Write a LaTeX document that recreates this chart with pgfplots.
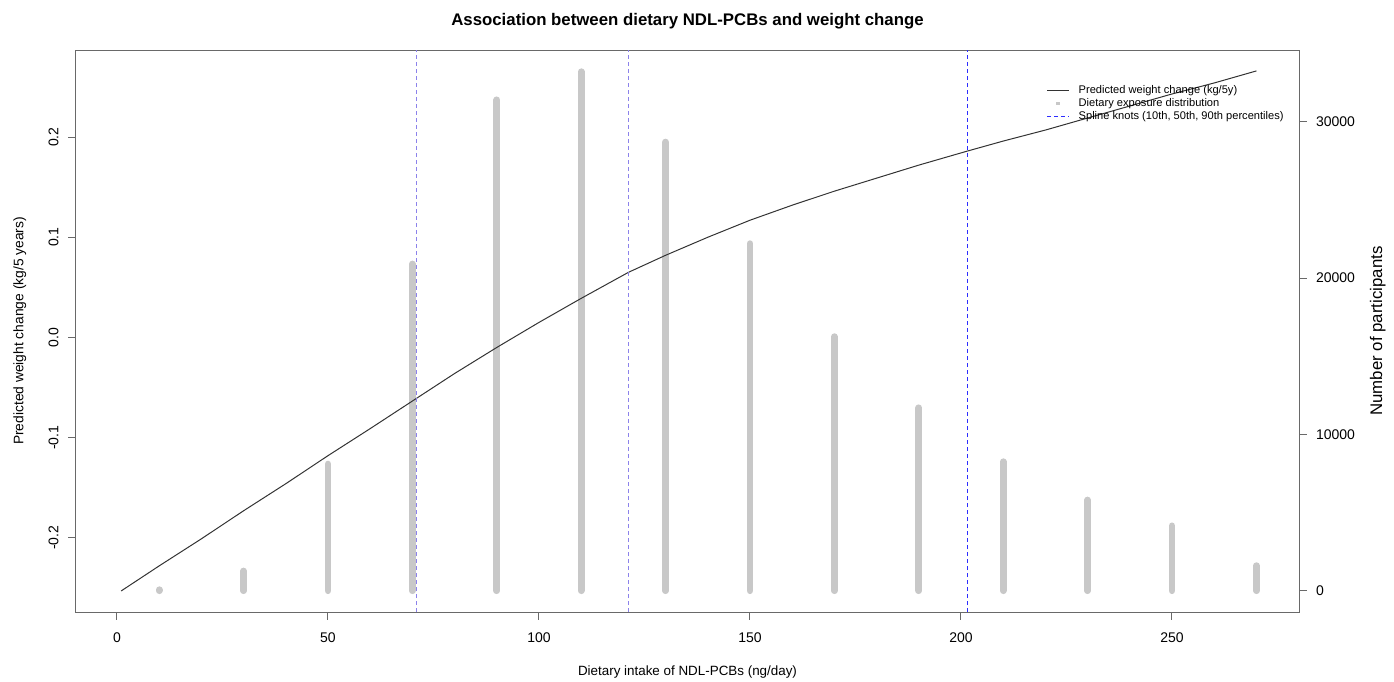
\documentclass[border=0pt]{standalone}
\usepackage{fontspec}
\setmainfont{Liberation Sans}
\usepackage{pgfplots}
\pgfplotsset{compat=1.18}
\definecolor{barcol}{RGB}{200,200,200}
\definecolor{knotA}{RGB}{140,130,235}
\definecolor{knotB}{RGB}{45,45,255}
\definecolor{axcol}{RGB}{105,105,105}
\begin{document}
\begin{tikzpicture}
\pgfplotsset{
  every axis/.append style={
    scale only axis, width=611.5pt, height=281pt,
    xmin=-9.7, xmax=280.1,
    tick align=outside, major tick length=3.85pt,
    every tick/.style={axcol, line width=0.5pt},
    axis line style={axcol, line width=0.5pt},
    tick label style={font=\fontsize{7}{8}\selectfont, inner sep=0pt},
  },
}
% participants per intake bin (right axis)
\begin{axis}[
  axis x line=none, axis y line*=right,
  ymin=-1363, ymax=34590, scaled y ticks=false,
  ytick={0,10000,20000,30000}, yticklabels={0,10000,20000,30000},
  yticklabel style={anchor=west}, yticklabel shift=4.5pt,
]
\addplot[ycomb, barcol, line width=3.4pt, line cap=round] coordinates {
  (10,60) (30,1260) (50,8100) (70,20900) (90,31400) (110,33200) (130,28700)
  (150,22200) (170,16250) (190,11700) (210,8250) (230,5800) (250,4150) (270,1600)};
\end{axis}
% spline fit (left axis)
\begin{axis}[
  name=main,
  ymin=-0.2740, ymax=0.2869,
  xtick pos=bottom, ytick pos=left,
  xtick={0,50,100,150,200,250}, xticklabels={0,50,100,150,200,250},
  xticklabel style={anchor=base}, xticklabel shift=11.5pt,
  ytick={-0.2,-0.1,0,0.1,0.2}, yticklabels={-0.2,-0.1,0.0,0.1,0.2},
  yticklabel style={rotate=90, anchor=base}, yticklabel shift=5pt,
  legend style={draw=none, fill=none, inner sep=0pt, outer sep=0pt,
    at={(0.7937,0.9374)}, anchor=north west,
    font=\fontsize{5.55}{6.5}\selectfont,
    nodes={inner sep=0pt, text height=4pt, text depth=1.2pt},
    column sep=4.7pt, row sep=1.45pt},
  legend cell align=left,
  legend image code/.code={\draw[#1] (0pt,0pt) -- (10.8pt,0pt);},
]
\addplot[black!80, line width=0.5pt] coordinates {
  (1,-0.253) (10,-0.228) (20,-0.201) (30,-0.173) (40,-0.146) (50,-0.118)
  (60,-0.091) (70.9,-0.061) (80,-0.036) (90,-0.010) (100,0.015) (110,0.039)
  (121.2,0.065) (130,0.082) (140,0.100) (150,0.117) (160,0.132) (170,0.146)
  (180,0.159) (190,0.172) (201.5,0.186) (210,0.196) (220,0.207) (230,0.219)
  (240,0.231) (250,0.243) (260,0.254) (270,0.266)};
\addlegendentry{Predicted weight change (kg/5y)}
\addlegendimage{legend image code/.code={
  \path[draw=none, fill=none] (0pt,-0.9pt) rectangle (10.8pt,0.9pt);
  \fill[barcol, draw=none] (4.5pt,-0.9pt) rectangle (6.3pt,0.9pt);}}
\addlegendentry{Dietary exposure distribution}
\addlegendimage{color=knotB, line width=0.5pt, dash pattern=on 2pt off 1.5pt}
\addlegendentry{Spline knots (10th, 50th, 90th percentiles)}
\addplot[color=knotA, line width=0.5pt, dash pattern=on 2pt off 1.5pt, forget plot]
  coordinates {(70.9,-0.2740) (70.9,0.2869)};
\addplot[color=knotA, line width=0.5pt, dash pattern=on 2pt off 1.5pt, forget plot]
  coordinates {(121.2,-0.2740) (121.2,0.2869)};
\addplot[color=knotB, line width=0.75pt, dash pattern=on 2pt off 1.5pt, forget plot]
  coordinates {(201.5,-0.2740) (201.5,0.2869)};
\end{axis}
\node[anchor=base, inner sep=0pt, font=\bfseries\fontsize{8.4}{10}\selectfont]
  at ([yshift=12.5pt]main.north) {Association between dietary NDL-PCBs and weight change};
\node[anchor=base, inner sep=0pt, font=\fontsize{6.7}{8}\selectfont]
  at ([yshift=-31.75pt]main.south) {Dietary intake of NDL-PCBs (ng/day)};
\node[rotate=90, anchor=base, inner sep=0pt, font=\fontsize{6.9}{8}\selectfont]
  at ([xshift=-26.3pt]main.west) {Predicted weight change (kg/5 years)};
\node[rotate=90, anchor=base, inner sep=0pt, font=\fontsize{8.4}{10}\selectfont]
  at ([xshift=41.6pt]main.east) {Number of participants};
\path (main.south west) ++(-38pt,-34.5pt) rectangle ++(697pt,340.5pt);
\end{tikzpicture}
\end{document}
